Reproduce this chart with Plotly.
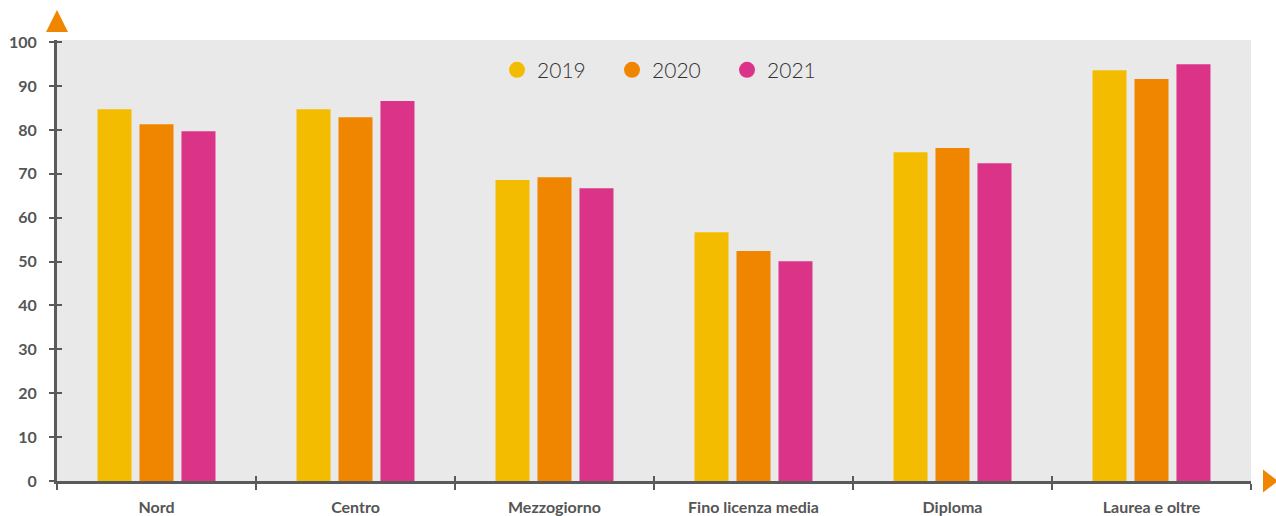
import plotly.graph_objects as go

categories = ["Nord", "Centro", "Mezzogiorno", "Fino licenza media", "Diploma", "Laurea e oltre"]
years = ["2019", "2020", "2021"]
v2019 = [84.7, 84.7, 68.6, 56.7, 74.9, 93.6]
v2020 = [81.3, 82.9, 69.2, 52.4, 75.9, 91.6]
v2021 = [79.7, 86.6, 66.7, 50.1, 72.4, 95.0]
colors = ["#F4BC00", "#F08600", "#DA3388"]

fig = go.Figure()
for name, vals, col in zip(years, [v2019, v2020, v2021], colors):
    fig.add_trace(go.Bar(x=categories, y=vals, name=name, marker=dict(color=col, line=dict(width=0)),
                         showlegend=False, hoverinfo="y"))
for name, col in zip(years, colors):
    fig.add_trace(go.Scatter(x=[None], y=[None], mode="markers", name=name,
                             marker=dict(color=col, size=16, symbol="circle"), showlegend=True))
# helper trace for the overlay axes (inside half of the crossing ticks)
fig.add_trace(go.Scatter(x=[None], y=[None], xaxis="x2", yaxis="y2", showlegend=False, hoverinfo="skip"))

axis_col = "#5a5a5a"
tick_font = dict(size=16, family="Lato", color="#555", weight="bold")
fig.update_layout(
    width=1276, height=516,
    margin=dict(l=57, r=25, t=40, b=35, autoexpand=False),
    paper_bgcolor="white", plot_bgcolor="#E9E9E9",
    barmode="group", bargap=0.367, bargroupgap=0.19,
    font=dict(family="Lato", color="#555"),
    legend=dict(orientation="h", x=0.513, xanchor="center", y=0.978, yanchor="top",
                font=dict(size=21, color="#333", family="Lato", weight=300), bgcolor="rgba(0,0,0,0)",
                entrywidth=70, entrywidthmode="pixels"),
    xaxis=dict(type="category", tickson="boundaries", ticks="outside", ticklen=6, tickwidth=2,
               tickcolor=axis_col, showline=True, linecolor=axis_col, linewidth=3,
               showgrid=False, tickfont=tick_font, ticklabelstandoff=10,
               range=[-0.5, 5.5], fixedrange=True),
    yaxis=dict(range=[0, 100.5], tickvals=list(range(0, 101, 10)), ticks="outside", ticklen=5,
               tickwidth=2, tickcolor=axis_col, showline=True, linecolor=axis_col, linewidth=3,
               showgrid=False, zeroline=False, tickfont=tick_font, ticklabelstandoff=9),
    xaxis2=dict(overlaying="x", range=[-0.5, 5.5], tickvals=[i - 0.5 for i in range(7)],
                ticks="inside", ticklen=5, tickwidth=2, tickcolor=axis_col, showticklabels=False,
                showline=False, showgrid=False, zeroline=False, fixedrange=True),
    yaxis2=dict(overlaying="y", side="left", range=[0, 100.5], tickvals=list(range(0, 101, 10)),
                ticks="inside", ticklen=5, tickwidth=2, tickcolor=axis_col, showticklabels=False,
                showline=False, showgrid=False, zeroline=False, fixedrange=True),
    shapes=[
        dict(type="path", xref="paper", yref="paper", xsizemode="pixel", ysizemode="pixel",
             xanchor=0, yanchor=1, path="M -11 8 L 11 8 L 0 30 Z",
             fillcolor="#F08600", line=dict(width=0)),
        dict(type="path", xref="paper", yref="paper", xsizemode="pixel", ysizemode="pixel",
             xanchor=1, yanchor=0, path="M 12 11.5 L 12 -11.5 L 27 0 Z",
             fillcolor="#F08600", line=dict(width=0)),
    ],
)
fig.write_html("out.html", config={"displayModeBar": False},
               post_script="document.body.style.margin='0';document.body.style.overflow='hidden';")
